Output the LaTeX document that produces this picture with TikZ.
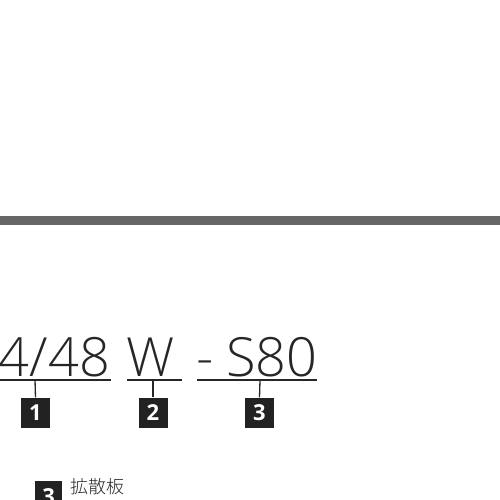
\documentclass[tikz,border=0pt]{standalone}
\usepackage{fontspec}
\setmainfont{Open Sans}
\newfontfamily\thin{Open Sans Light}
\newfontfamily\cjk{Noto Sans CJK JP Light}
\definecolor{bar}{HTML}{666666}
\definecolor{boxc}{HTML}{222222}
\tikzset{
  big/.style={inner sep=0pt, font=\thin\fontsize{54}{54}\selectfont, text=black!85},
  numbox/.style={fill=boxc, minimum width=29pt, minimum height=30pt, inner sep=0pt, text=white, font=\fontsize{22}{22}\selectfont\bfseries},
  uline/.style={line width=1.3pt, black!85},
}
\begin{document}
\begin{tikzpicture}[x=1pt,y=-1pt]
\useasboundingbox (0,0) rectangle (500,500);
\fill[bar] (0,216) rectangle (500,225);
\node[big, anchor=base east] (t1) at (110,376) {4/48};
\node[big, anchor=base west] (t2) at (126,376) {W};
\node[big, anchor=base] (t3) at (205,376) {-};
\node[big, anchor=base west] (t4) at (226,376) {S80};
\coordinate (u1) at (35,380);
\coordinate (u2) at (153,380);
\coordinate (u3) at (260,380);
\draw[uline] (0,380) -- (111,380);
\draw[uline] (127,380) -- (182,380);
\draw[uline] (197,380) -- (317,380);
\node[numbox] (b1) at (35.5,412.5) {1};
\node[numbox] (b2) at (153,412.5) {2};
\node[numbox] (b3) at (259.5,412.5) {3};
\draw[uline] (u1) -- (b1.north);
\draw[uline] (u2) -- (b2.north);
\draw[uline] (u3) -- (b3.north);
\node[numbox, minimum width=27pt, anchor=north west] (c3) at (35,481) {3};
\node[anchor=north west, inner sep=0pt, font=\cjk\fontsize{18}{18}\selectfont, text=black!85] (lab) at (70,478) {拡散板};
\end{tikzpicture}
\end{document}
